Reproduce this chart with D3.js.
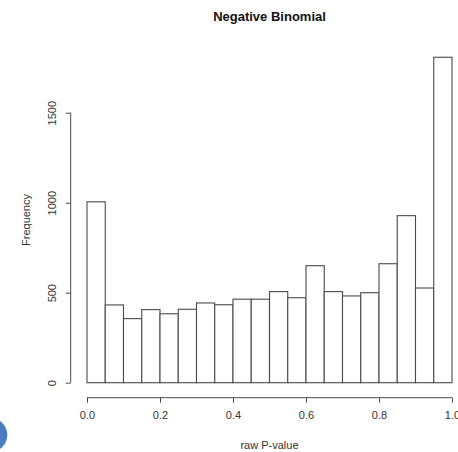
<!DOCTYPE html>
<html>
<head>
<meta charset="utf-8">
<script src="https://cdn.jsdelivr.net/npm/d3@7/dist/d3.min.js"></script>
<style>
	body { margin: 0; background: #fff; }
	text { font-family: "Liberation Sans", Arial, sans-serif; }
</style>
</head>
<body>
<script>
// histogram data
var binStarts = [0, 0.05, 0.1, 0.15, 0.2, 0.25, 0.3, 0.35, 0.4, 0.45,
                 0.5, 0.55, 0.6, 0.65, 0.7, 0.75, 0.8, 0.85, 0.9, 0.95];
var binWidth = 0.05;
var counts = [1005, 432, 356, 406, 383, 408, 443, 433, 464, 464,
              506, 472, 650, 506, 482, 500, 661, 928, 526, 1808];
var xTicks = [0, 0.2, 0.4, 0.6, 0.8, 1.0];
var yTicks = [0, 500, 1000, 1500];
var title = 'Negative Binomial';
var xLabel = 'raw P-value';
var yLabel = 'Frequency';

(function (d3) {
	'use strict';

	var width = 458,
	    height = 452,
	    ink = '#4a4a4a';

	var svg = d3.select('body')
		.append('svg')
		.attr('width', width)
		.attr('height', height);

	var x = d3.scaleLinear()
		.domain([0, 1])
		.range([87, 452]);

	var y = d3.scaleLinear()
		.domain([0, 2000])
		.range([382.7, 22.7]);

	// bars
	svg.selectAll('rect.bar')
		.data(counts)
		.enter()
		.append('rect')
		.attr('class', 'bar')
		.attr('x', function (d, i) { return x(binStarts[i]); })
		.attr('y', function (d) { return y(d); })
		.attr('width', function (d, i) { return x(binStarts[i] + binWidth) - x(binStarts[i]); })
		.attr('height', function (d) { return y(0) - y(d); })
		.style('fill', '#fff')
		.style('stroke', ink)
		.style('stroke-width', 1.1);

	// x axis, R style: detached below the plot
	var xAxis = d3.axisBottom(x)
		.tickValues(xTicks)
		.tickSize(5)
		.tickPadding(9)
		.tickFormat(d3.format('.1f'));

	var gx = svg.append('g')
		.attr('transform', 'translate(0,397.7)')
		.call(xAxis);
	gx.select('.domain').attr('stroke', ink).attr('d', 'M' + x(0) + ',0H' + x(1));
	gx.selectAll('.tick line').attr('stroke', ink);
	gx.selectAll('.tick text')
		.attr('fill', '#333')
		.style('font-size', '11px')
		.style('font-family', '"Liberation Sans", Arial, sans-serif');

	// y axis, labels turned like R's default
	var yAxis = d3.axisLeft(y)
		.tickValues(yTicks)
		.tickSize(5)
		.tickFormat(d3.format('d'));

	var gy = svg.append('g')
		.attr('transform', 'translate(70.7,0)')
		.call(yAxis);
	gy.select('.domain').attr('stroke', ink).attr('d', 'M0,' + y(0) + 'V' + y(1500));
	gy.selectAll('.tick line').attr('stroke', ink);
	gy.selectAll('.tick text')
		.attr('x', null)
		.attr('dy', null)
		.attr('transform', 'translate(-14.5,0) rotate(-90)')
		.attr('text-anchor', 'middle')
		.attr('fill', '#333')
		.style('font-size', '11px')
		.style('font-family', '"Liberation Sans", Arial, sans-serif');

	// title and axis labels
	svg.append('text')
		.attr('x', 269.5)
		.attr('y', 21)
		.attr('text-anchor', 'middle')
		.attr('font-weight', 'bold')
		.attr('font-size', '13px')
		.attr('fill', '#111')
		.text(title);

	svg.append('text')
		.attr('x', 269.5)
		.attr('y', 449)
		.attr('text-anchor', 'middle')
		.attr('font-size', '11px')
		.attr('fill', '#333')
		.text(xLabel);

	svg.append('text')
		.attr('transform', 'translate(30,220) rotate(-90)')
		.attr('text-anchor', 'middle')
		.attr('font-size', '11px')
		.attr('fill', '#333')
		.text(yLabel);

	// blue dot cut off at the lower left corner
	svg.append('circle')
		.attr('cx', -9.7)
		.attr('cy', 435)
		.attr('r', 17)
		.style('fill', '#4a7cc0');
})(d3);
</script>
</body>
</html>
